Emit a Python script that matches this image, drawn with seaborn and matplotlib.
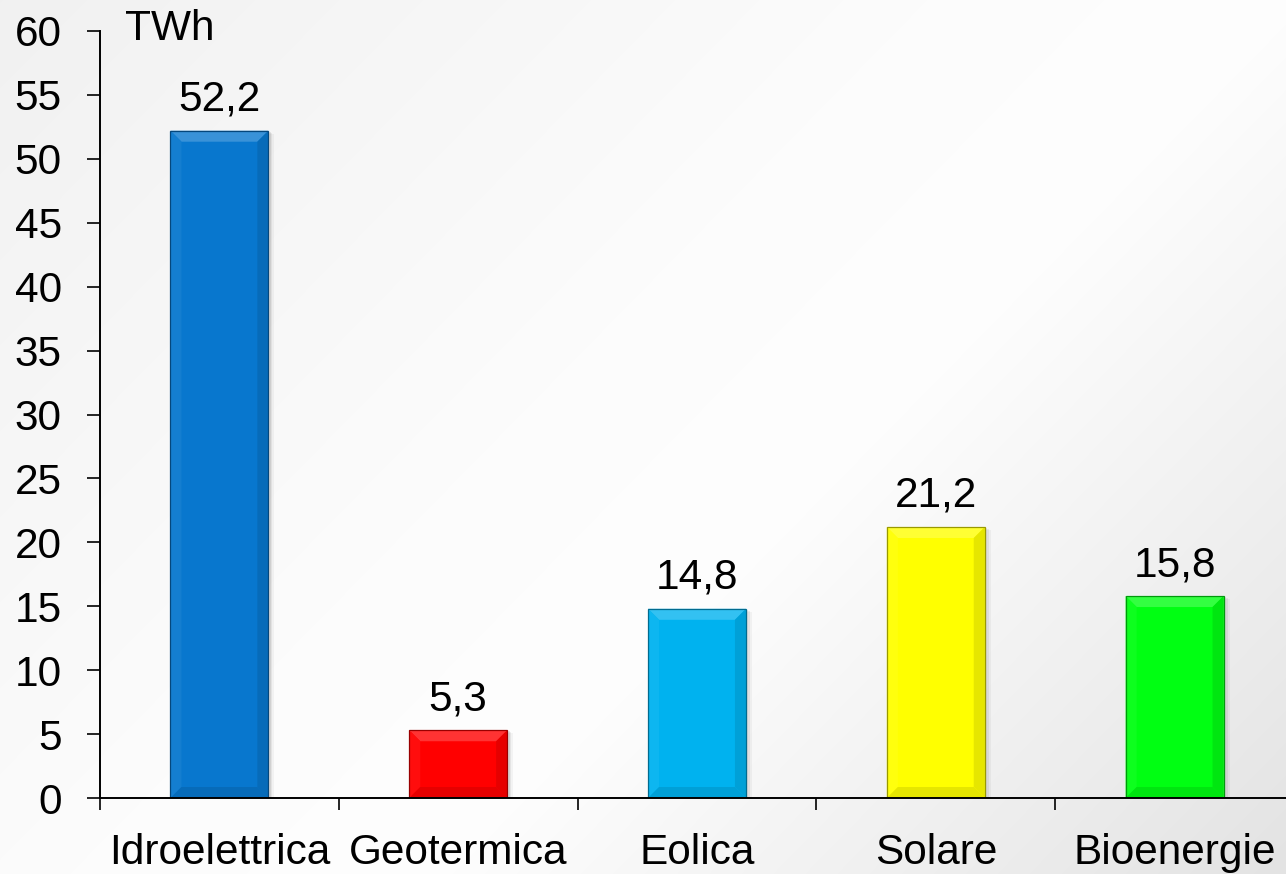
import numpy as np
import pandas as pd
import matplotlib
matplotlib.use("Agg")
import matplotlib.pyplot as plt
from matplotlib.patches import Polygon, Rectangle
from matplotlib.colors import to_rgb
import seaborn as sns

# Renewable electricity production by source (TWh)
sources = ["Idroelettrica", "Geotermica", "Eolica", "Solare", "Bioenergie"]
production_twh = [52.2, 5.3, 14.8, 21.2, 15.8]
bar_colors = ["#0877CE", "#FF0000", "#00B2EF", "#FFFF00", "#00FF12"]
y_ticks = [0, 5, 10, 15, 20, 25, 30, 35, 40, 45, 50, 55, 60]
unit_label = "TWh"

sns.set_theme(style="ticks")
plt.rcParams["font.family"] = ["Liberation Sans", "DejaVu Sans"]

DPI = 100
fig = plt.figure(figsize=(12.86, 8.74), dpi=DPI)

# soft diagonal grey/white backdrop
bg = fig.add_axes([0, 0, 1, 1], zorder=-10)
h, w = 874, 1286
yy, xx = np.mgrid[0:h, 0:w]
t = (xx / w * 0.6 + yy / h * 0.4)
stops_t = [0.0, 0.45, 0.6, 1.0]
stops_v = [0.945, 0.99, 0.995, 0.89]
val = np.interp(t, stops_t, stops_v)
bg.imshow(np.dstack([val, val, val]), aspect="auto", extent=[0, 1, 0, 1],
          origin="upper")
bg.set_axis_off()

ax = fig.add_axes([100 / w, 76 / h, 1194 / w, 767 / h])
ax.set_facecolor("none")

df = pd.DataFrame({"source": sources, "twh": production_twh})
sns.barplot(data=df, x="source", y="twh", hue="source", palette=bar_colors,
            width=0.41, saturation=1, legend=False, ax=ax, zorder=3)

ax.set_xlim(-0.5, len(sources) - 0.5)
ax.set_ylim(0, 60)
ax.set_yticks(y_ticks)
ax.set_xlabel("")
ax.set_ylabel("")
sns.despine(ax=ax)
for side in ("left", "bottom"):
    ax.spines[side].set_linewidth(1.4)
    ax.spines[side].set_color("black")
ax.spines["bottom"].set_zorder(5)

ax.tick_params(axis="y", direction="out", length=9.5, width=1.2,
               color="black", labelsize=30.5, pad=18)
ax.tick_params(axis="x", which="major", length=0, labelsize=30.5, pad=25)
ax.set_xticks(np.arange(-0.5, len(sources), 1.0), minor=True)
ax.tick_params(axis="x", which="minor", direction="out", length=8.5,
               width=1.2, color="black")
for lbl in ax.get_xticklabels() + ax.get_yticklabels():
    lbl.set_color("black")


def blend(c, other, f):
    c = np.array(to_rgb(c))
    o = np.array(to_rgb(other))
    return tuple(c * (1 - f) + o * f)


# bevelled look for each bar, built from the bar geometry in pixels
bev = 11
fig.canvas.draw()
bars = list(ax.patches)
for patch, col, v in zip(bars, bar_colors, production_twh):
    x0, y0 = patch.get_x(), patch.get_y()
    x1, y1 = x0 + patch.get_width(), y0 + patch.get_height()
    (px0, py0), (px1, py1) = ax.transData.transform([(x0, y0), (x1, y1)])
    # soft drop shadow behind the bar
    for k, a in ((6, 0.04), (4, 0.06), (2.5, 0.08)):
        ax.add_patch(Rectangle((px0 + k * 0.6, py0 - k * 0.5), px1 - px0 + k * 0.4,
                               py1 - py0, transform=None,
                               facecolor="black", alpha=a,
                               edgecolor="none", zorder=2.5))
    top = [(px0, py1), (px1, py1), (px1 - bev, py1 - bev), (px0 + bev, py1 - bev)]
    bottom = [(px0, py0), (px1, py0), (px1 - bev, py0 + bev), (px0 + bev, py0 + bev)]
    left = [(px0, py0), (px0, py1), (px0 + bev, py1 - bev), (px0 + bev, py0 + bev)]
    right = [(px1, py0), (px1, py1), (px1 - bev, py1 - bev), (px1 - bev, py0 + bev)]
    for poly, fc in ((top, blend(col, "white", 0.2)),
                     (left, blend(col, "white", 0.05)),
                     (right, blend(col, "black", 0.1)),
                     (bottom, blend(col, "black", 0.1))):
        ax.add_patch(Polygon(poly, closed=True, transform=None,
                             facecolor=fc, edgecolor="none", zorder=4))
    ax.add_patch(Rectangle((px0, py0), px1 - px0, py1 - py0, transform=None,
                           facecolor="none", edgecolor=blend(col, "black", 0.4),
                           linewidth=0.9, zorder=4.2))
    ax.annotate(f"{v:.1f}".replace(".", ","), xy=(patch.get_x() + patch.get_width() / 2, v),
                xytext=(0, 20), textcoords="offset pixels", ha="center",
                va="baseline", fontsize=30.5, color="black", zorder=6)

ax.annotate(unit_label, xy=(0, 60), xycoords=("axes fraction", "data"),
            xytext=(25, -9), textcoords="offset pixels", ha="left",
            va="baseline", fontsize=30.5, color="black", annotation_clip=False)

fig.savefig("out.png", dpi=DPI)
